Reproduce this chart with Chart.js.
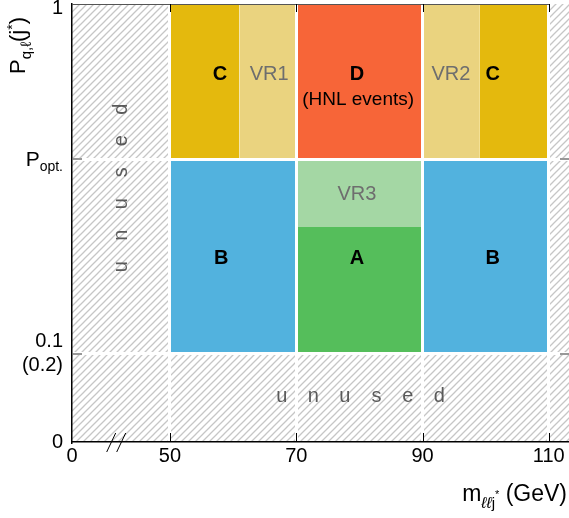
<!DOCTYPE html>
<html>
<head>
<meta charset="utf-8">
<script src="https://cdn.jsdelivr.net/npm/chart.js@4.4.0/dist/chart.umd.min.js"></script>
<style>
  body { margin: 0; background: #fff; }
</style>
</head>
<body>
<canvas id="regions" width="569" height="518"></canvas>
<script>
// x: m_llj* in GeV (axis broken between 0 and 50), y: P_{q,l}(j*) level
const xTicks = [0, 50, 70, 90, 110];
const xTickLabels = ['0', '50', '70', '90', '110'];
const xMax = 113.2;
const yTicks = [0, 0.201, 0.646, 1];           // 0, 0.1 (0.2), P_opt., 1
const yTickLabels = ['0', ['0.1', '(0.2)'], '', ''];
const yOpt = 0.646, yLow = 0.201, ySplit = 0.491;

// analysis regions
const regionNames = ['C', 'VR1', 'D', 'VR2', 'C', 'B', 'VR3', 'A', 'B'];
const regionX0 = [50, 61, 70, 90, 99, 50, 70, 70, 90];
const regionX1 = [61, 70, 90, 99, 110, 70, 90, 90, 110];
const regionY0 = [yOpt, yOpt, yOpt, yOpt, yOpt, yLow, ySplit, yLow, yLow];
const regionY1 = [1, 1, 1, 1, 1, yOpt, yOpt, ySplit, yOpt];
const regionColors = ['#e4b90d', '#ead37f', '#f76538', '#ead37f', '#e4b90d',
                      '#52b2de', '#a4d7a4', '#55be5b', '#52b2de'];

// unused (hatched) areas
const unusedX0 = [0, 50, 110];
const unusedX1 = [50, xMax, xMax];
const unusedY0 = [0, 0, yLow];
const unusedY1 = [1, yLow, 1];

// text in the regions
const labelText = ['C', 'VR1', 'D', '(HNL events)', 'VR2', 'C', 'VR3', 'A', 'B', 'B'];
const labelX = [57.9, 65.7, 79.6, 79.8, 94.5, 101.1, 79.6, 79.6, 58.1, 101.1];
const labelY = [0.84, 0.84, 0.84, 0.781, 0.84, 0.84, 0.564, 0.418, 0.418, 0.418];
const labelKind = ['bold', 'vr', 'bold', 'plain', 'vr', 'bold', 'vr', 'bold', 'bold', 'bold'];

// compress 0..50 onto the broken part of the axis
const breakWidth = 15.52;
function toAxis(v) {
  return v <= 50 ? v * breakWidth / 50 : breakWidth + (v - 50);
}

function hatchPattern() {
  const p = 7;
  const c = document.createElement('canvas');
  c.width = p; c.height = p;
  const g = c.getContext('2d');
  g.strokeStyle = '#c6c6c6';
  g.lineWidth = 1.3;
  g.beginPath();
  g.moveTo(-1, p + 1); g.lineTo(p + 1, -1);
  g.moveTo(-1, 1); g.lineTo(1, -1);
  g.moveTo(p - 1, p + 1); g.lineTo(p + 1, p - 1);
  g.stroke();
  return g.createPattern(c, 'repeat');
}

function box(x0, x1, y0, y1, color) {
  return {
    type: 'line',
    data: [{x: toAxis(x0), y: y1}, {x: toAxis(x1), y: y1}],
    fill: {value: y0},
    backgroundColor: color,
    borderColor: 'rgba(0,0,0,0)',
    borderWidth: 0,
    pointRadius: 0,
    tension: 0
  };
}

const hatch = hatchPattern();
const datasets = [];
unusedX0.forEach((x0, i) => datasets.push(box(x0, unusedX1[i], unusedY0[i], unusedY1[i], hatch)));
regionNames.forEach((n, i) => datasets.push(box(regionX0[i], regionX1[i], regionY0[i], regionY1[i], regionColors[i])));

const FONT = "'Liberation Sans', Arial, sans-serif";

const decorations = {
  id: 'decorations',
  afterDraw(chart) {
    const ctx = chart.ctx;
    const xs = chart.scales.x, ys = chart.scales.y;
    const a = chart.chartArea;
    ctx.save();

    // frame top
    ctx.strokeStyle = '#555';
    ctx.lineWidth = 1;
    ctx.beginPath();
    ctx.moveTo(a.left, a.top + 0.5);
    ctx.lineTo(xs.getPixelForValue(toAxis(110)) + 1, a.top + 0.5);
    ctx.stroke();

    // inward ticks
    ctx.strokeStyle = '#000';
    [50, 70, 90, 110].forEach(v => {
      const px = Math.round(xs.getPixelForValue(toAxis(v))) + 0.5;
      ctx.beginPath();
      ctx.moveTo(px, a.bottom); ctx.lineTo(px, a.bottom - 9);
      ctx.moveTo(px, a.top); ctx.lineTo(px, a.top + 8);
      ctx.stroke();
    });
    ctx.strokeStyle = '#777';
    ctx.lineWidth = 1.5;
    [yLow, yOpt].forEach(v => {
      const py = ys.getPixelForValue(v);
      ctx.beginPath();
      ctx.moveTo(a.left, py); ctx.lineTo(a.left + 10, py);
      ctx.moveTo(a.right, py); ctx.lineTo(a.right - 9, py);
      ctx.stroke();
    });

    // axis break marks
    ctx.strokeStyle = '#000';
    ctx.lineWidth = 1;
    const bx = xs.getPixelForValue(toAxis(20));
    [0, 10].forEach(d => {
      ctx.beginPath();
      ctx.moveTo(bx + d - 4.5, a.bottom + 10);
      ctx.lineTo(bx + d + 4.5, a.bottom - 9);
      ctx.stroke();
    });

    // region labels
    ctx.textAlign = 'center';
    ctx.textBaseline = 'middle';
    labelText.forEach((t, i) => {
      const k = labelKind[i];
      ctx.font = (k === 'bold' ? 'bold 20px ' : (k === 'vr' ? '20px ' : '19px ')) + FONT;
      ctx.fillStyle = k === 'vr' ? '#6e6e6e' : '#000';
      ctx.fillText(t, xs.getPixelForValue(toAxis(labelX[i])), ys.getPixelForValue(labelY[i]));
    });

    // "unused" letters
    const word = 'unused'.split('');
    const step = 31.5;
    ctx.font = '20px ' + FONT;
    ctx.fillStyle = '#5a5a5a';
    const hx = xs.getPixelForValue(toAxis(80.2)), hy = ys.getPixelForValue(0.103);
    word.forEach((ch, i) => ctx.fillText(ch, hx + (i - 2.5) * step, hy));
    ctx.save();
    ctx.translate(xs.getPixelForValue(toAxis(25)), ys.getPixelForValue(0.587));
    ctx.rotate(-Math.PI / 2);
    word.forEach((ch, i) => ctx.fillText(ch, (i - 2.5) * step - 3, 0));
    ctx.restore();

    // "1" tick label, kept inside the canvas
    ctx.fillStyle = '#000';
    ctx.textAlign = 'right';
    ctx.font = '20px ' + FONT;
    ctx.fillText('1', a.left - 9, ys.getPixelForValue(1) + 4);

    // P_opt. tick label
    ctx.textAlign = 'left';
    ctx.textBaseline = 'alphabetic';
    const po = ys.getPixelForValue(yOpt);
    ctx.font = '14px ' + FONT;
    const wSub = ctx.measureText('opt.').width;
    ctx.font = '21px ' + FONT;
    const wP = ctx.measureText('P').width;
    const px0 = a.left - 9 - wSub - wP;
    ctx.fillText('P', px0, po + 7);
    ctx.font = '14px ' + FONT;
    ctx.fillText('opt.', px0 + wP, po + 12);

    // x title: m_{llj*} (GeV)
    const parts = [
      ['m', '23px ' + FONT, 0],
      ['\u2113\u2113', 'italic 16px ' + FONT, 7],
      ['j', '15px ' + FONT, 7],
      ['*', '11px ' + FONT, -3],
      [' (GeV)', '23px ' + FONT, 0]
    ];
    let w = 0;
    parts.forEach(p => { ctx.font = p[1]; w += ctx.measureText(p[0]).width; });
    let cx = 567 - w;
    parts.forEach(p => {
      ctx.font = p[1];
      ctx.fillText(p[0], cx, 501 + p[2]);
      cx += ctx.measureText(p[0]).width;
    });

    // y title: P_{q,l}(j*)
    ctx.save();
    ctx.translate(25, 74);
    ctx.rotate(-Math.PI / 2);
    const yparts = [
      ['P', '22px ' + FONT, 0],
      ['q,\u2113', '15px ' + FONT, 6],
      ['(j', '22px ' + FONT, 0],
      ['*', '14px ' + FONT, -8],
      [')', '22px ' + FONT, 0]
    ];
    let ux = 0;
    yparts.forEach(p => {
      ctx.font = p[1];
      ctx.fillText(p[0], ux, p[2]);
      ux += ctx.measureText(p[0]).width;
    });
    ctx.restore();

    ctx.restore();
  }
};

new Chart(document.getElementById('regions'), {
  type: 'line',
  data: {datasets: datasets},
  options: {
    responsive: false,
    animation: false,
    devicePixelRatio: 1,
    layout: {padding: {top: 4, right: 0, left: 0, bottom: 0}},
    plugins: {legend: {display: false}, tooltip: {enabled: false}},
    scales: {
      x: {
        type: 'linear',
        min: 0,
        max: toAxis(xMax),
        afterBuildTicks: s => { s.ticks = xTicks.map(v => ({value: toAxis(v)})); },
        afterFit: s => { s.height = 76; s.paddingLeft = 0; s.paddingRight = 0; },
        ticks: {
          autoSkip: false, maxRotation: 0, padding: 2, color: '#000',
          font: {family: FONT, size: 20},
          callback: (v, i) => xTickLabels[i]
        },
        grid: {
          z: 1, lineWidth: 3, drawTicks: false,
          color: c => (c.tick && c.tick.value > 0 ? '#ffffff' : 'rgba(0,0,0,0)')
        },
        border: {display: true, color: '#000', width: 1.5, z: 2}
      },
      y: {
        type: 'linear',
        min: 0,
        max: 1,
        afterBuildTicks: s => { s.ticks = yTicks.map(v => ({value: v})); },
        afterFit: s => { s.width = 72; s.paddingTop = 0; s.paddingBottom = 0; },
        ticks: {
          autoSkip: false, padding: 9, color: '#000',
          font: {family: FONT, size: 20},
          callback: (v, i) => yTickLabels[i]
        },
        grid: {
          z: 1, lineWidth: 3, drawTicks: false,
          color: c => (c.tick && c.tick.value > 0 && c.tick.value < 1 ? '#ffffff' : 'rgba(0,0,0,0)')
        },
        border: {display: true, color: '#000', width: 1.5, z: 2}
      }
    }
  },
  plugins: [decorations]
});
</script>
</body>
</html>
